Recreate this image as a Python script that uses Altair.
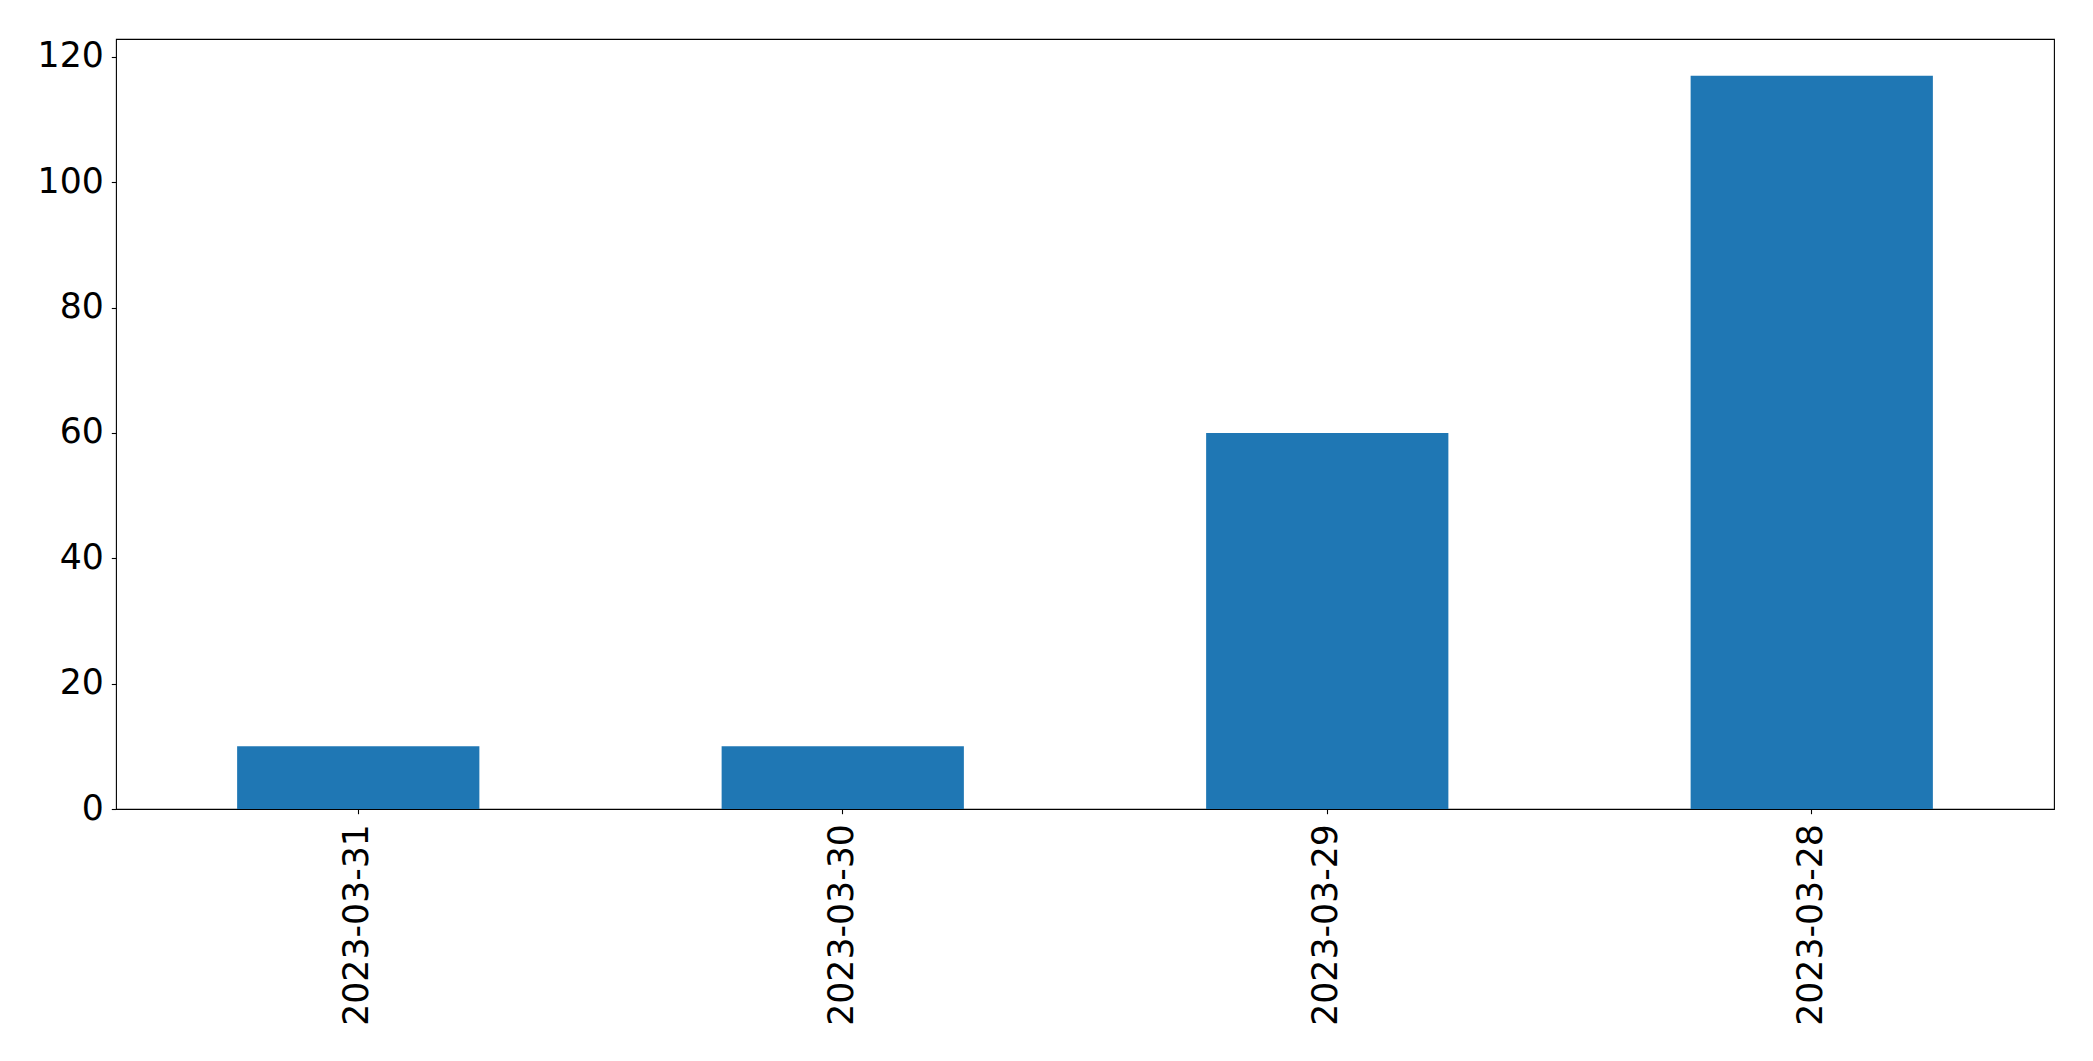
import altair as alt
import pandas as pd

dates = ["2023-03-31", "2023-03-30", "2023-03-29", "2023-03-28"]
counts = [10, 10, 60, 117]
y_ticks = [0, 20, 40, 60, 80, 100, 120]

df = pd.DataFrame({"date": dates, "count": counts})

FONT = "DejaVu Sans"
FS = 34.7

chart = (
    alt.Chart(df)
    .mark_bar(color="#1f77b4")
    .encode(
        x=alt.X(
            "date:N",
            sort=None,
            title=None,
            scale=alt.Scale(paddingInner=0.5, paddingOuter=0.25),
            axis=alt.Axis(
                labelAngle=270,
                labelFont=FONT,
                labelFontSize=FS,
                labelColor="black",
                labelLimit=0,
                tickColor="black",
                tickSize=4.7,
                tickWidth=1.1,
                labelPadding=10,
                domain=False,
                grid=False,
            ),
        ),
        y=alt.Y(
            "count:Q",
            title=None,
            scale=alt.Scale(domain=[0, 122.85], nice=False, zero=True),
            axis=alt.Axis(
                values=y_ticks,
                labelFont=FONT,
                labelFontSize=FS,
                labelColor="black",
                tickColor="black",
                tickSize=4.7,
                tickWidth=1.1,
                labelPadding=8,
                domain=False,
                grid=False,
            ),
        ),
    )
    .properties(
        width=1938,
        height=770,
        autosize=alt.AutoSizeParams(type="none"),
        padding={"left": 108, "top": 31, "right": 31, "bottom": 244},
        background="white",
    )
    .configure_view(stroke="black", strokeWidth=1.1)
)

chart.save("out.html", embed_options={"renderer": "svg", "actions": False})
